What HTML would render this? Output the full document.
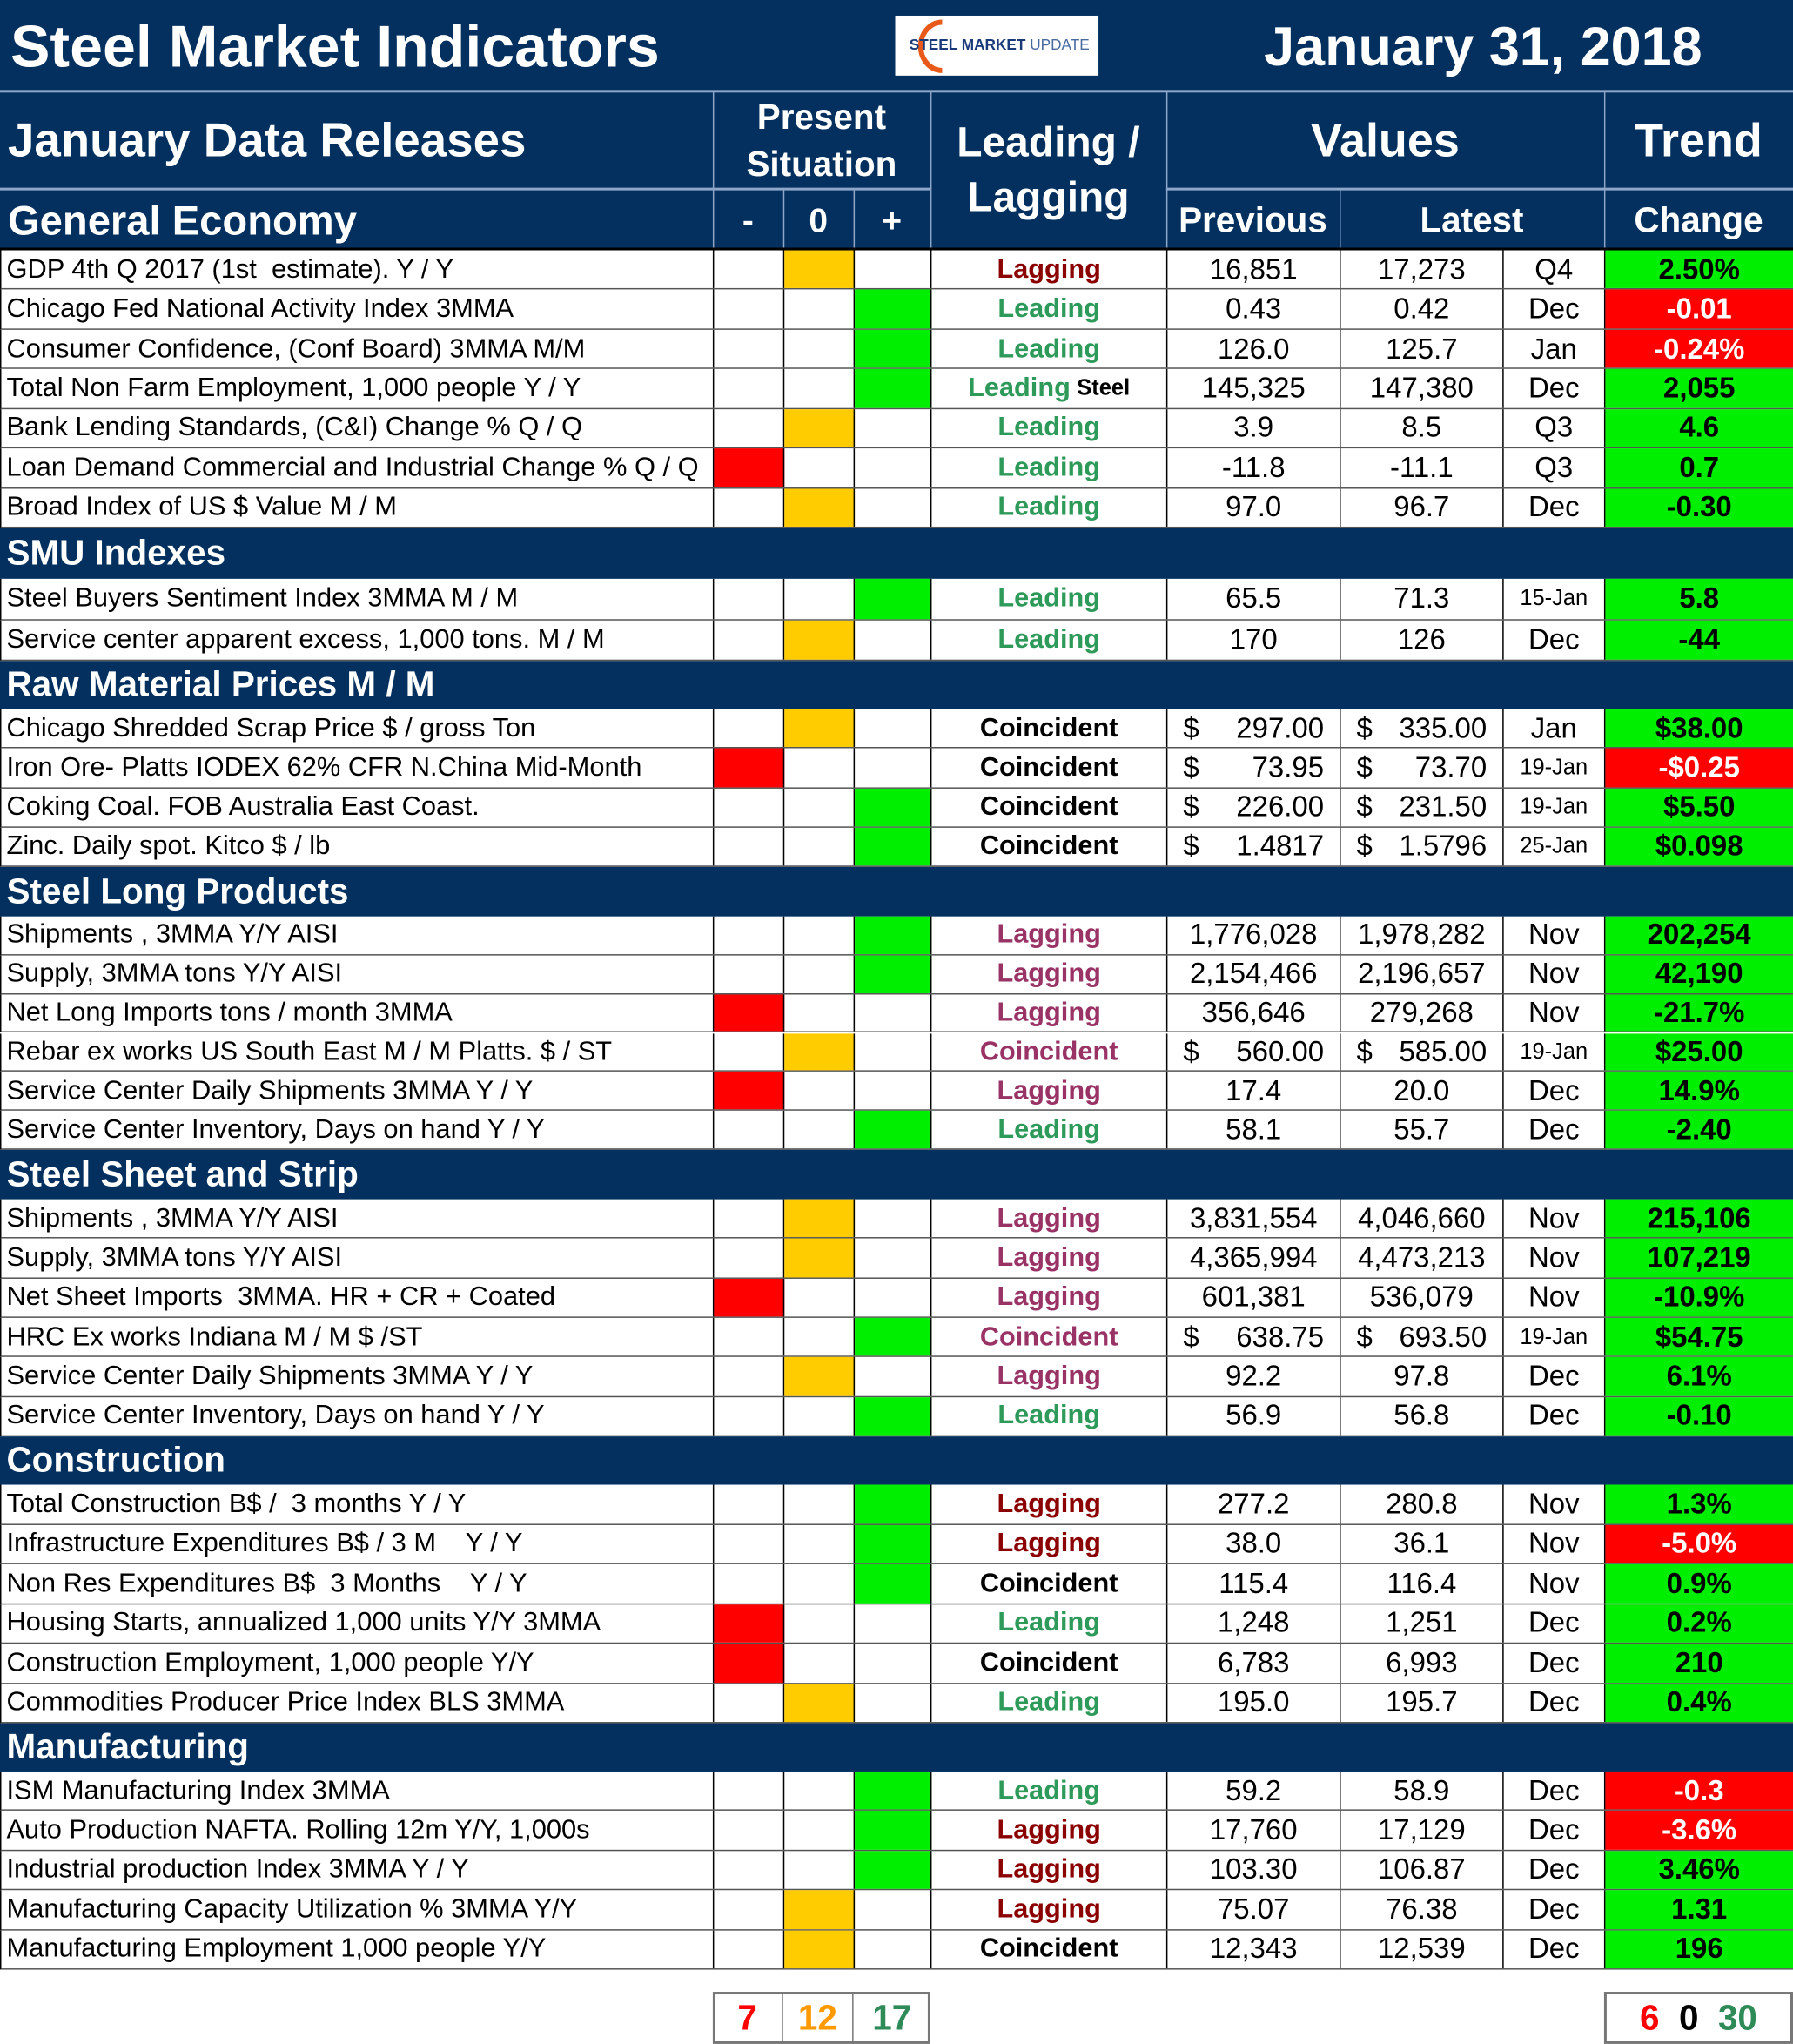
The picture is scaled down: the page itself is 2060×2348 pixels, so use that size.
<!DOCTYPE html>
<html><head><meta charset="utf-8">
<style>
html,body{margin:0;padding:0;background:#fff;}
body{width:2060px;height:2348px;overflow:hidden;position:relative;font-family:"Liberation Sans",Arial,sans-serif;}
#wrap{position:absolute;left:0;top:0;width:1376px;height:1568px;transform:scale(1.4971,1.4974);transform-origin:0 0;}
.a{position:absolute;box-sizing:border-box;}
.navy{background:#03305f;color:#fff;font-weight:bold;}
.c{display:flex;align-items:center;justify-content:center;white-space:nowrap;}
.l{display:flex;align-items:center;white-space:nowrap;}
.row .cell{position:absolute;top:0;height:100%;box-sizing:border-box;border-right:1px solid #000;display:flex;align-items:center;justify-content:center;white-space:pre;font-size:22px;}
</style></head><body>
<div id="wrap">
  <div class="a navy" style="left:0;top:0;width:1376px;height:192px;"></div>
  <div class="a l" style="left:8px;top:6px;height:60px;font-size:45.5px;color:#fff;font-weight:bold;">Steel Market Indicators</div>
  <div class="a c" style="left:687px;top:12px;width:156px;height:46px;background:#fff;font-size:11.5px;font-weight:bold;color:#1a3a7a;">
    <svg width="156" height="46" style="position:absolute;left:0;top:0"><path d="M36 5 A16 18 0 1 0 36 42" fill="none" stroke="#e85a1a" stroke-width="4"/></svg>
    <span style="position:relative;margin-left:4px">STEEL <span style="color:#1a3a7a">MARKET</span> <span style="font-weight:normal;color:#4a6aa0">UPDATE</span></span></div>
  <div class="a l" style="left:970px;top:6px;height:60px;font-size:42px;color:#fff;font-weight:bold;">January 31, 2018</div>
  <div class="a" style="left:0;top:69px;width:1376px;height:2px;background:#8ea6c8;"></div>
  <div class="a" style="left:0;top:144px;width:714px;height:2px;background:#8ea6c8;"></div>
  <div class="a" style="left:895px;top:144px;width:481px;height:2px;background:#8ea6c8;"></div>
  <div class="a" style="left:547px;top:70px;width:1px;height:122px;background:#8ea6c8;"></div>
  <div class="a" style="left:601px;top:145px;width:1px;height:47px;background:#8ea6c8;"></div>
  <div class="a" style="left:655px;top:145px;width:1px;height:47px;background:#8ea6c8;"></div>
  <div class="a" style="left:714px;top:70px;width:1px;height:122px;background:#8ea6c8;"></div>
  <div class="a" style="left:895px;top:70px;width:1px;height:122px;background:#8ea6c8;"></div>
  <div class="a" style="left:1028px;top:145px;width:1px;height:47px;background:#8ea6c8;"></div>
  <div class="a" style="left:1231px;top:70px;width:1px;height:122px;background:#8ea6c8;"></div>
  <div class="a l" style="left:6px;top:72px;height:72px;font-size:36.5px;color:#fff;font-weight:bold;">January Data Releases</div>
  <div class="a c" style="left:547px;top:72px;width:167px;height:72px;font-size:27px;color:#fff;font-weight:bold;text-align:center;line-height:36px;white-space:normal;">Present<br>Situation</div>
  <div class="a c" style="left:714px;top:80px;width:181px;height:100px;font-size:32px;color:#fff;font-weight:bold;text-align:center;line-height:42px;white-space:normal;">Leading /<br>Lagging</div>
  <div class="a c" style="left:895px;top:72px;width:336px;height:72px;font-size:36px;color:#fff;font-weight:bold;">Values</div>
  <div class="a c" style="left:1231px;top:72px;width:145px;height:72px;font-size:36px;color:#fff;font-weight:bold;">Trend</div>
  <div class="a l" style="left:6px;top:146px;height:46px;font-size:31.5px;color:#fff;font-weight:bold;">General Economy</div>
  <div class="a c" style="left:547px;top:146px;width:54px;height:46px;font-size:26px;color:#fff;font-weight:bold;">-</div>
  <div class="a c" style="left:601px;top:146px;width:54px;height:46px;font-size:26px;color:#fff;font-weight:bold;">0</div>
  <div class="a c" style="left:655px;top:146px;width:59px;height:46px;font-size:26px;color:#fff;font-weight:bold;">+</div>
  <div class="a c" style="left:895px;top:146px;width:133px;height:46px;font-size:27px;color:#fff;font-weight:bold;">Previous</div>
  <div class="a c" style="left:1028px;top:146px;width:203px;height:46px;font-size:27px;color:#fff;font-weight:bold;">Latest</div>
  <div class="a c" style="left:1231px;top:146px;width:145px;height:46px;font-size:27px;color:#fff;font-weight:bold;">Change</div>
  <div class="a" style="left:0;top:190px;width:1376px;height:2px;background:#000;"></div>

  <div class="a c" style="left:547px;top:1528px;width:167px;height:40px;border:2px solid #777;"></div>
  <div class="a c" style="left:547px;top:1528px;width:54px;height:40px;border-right:1px solid #777;font-size:27px;font-weight:bold;color:#ff0000;">7</div>
  <div class="a c" style="left:601px;top:1528px;width:54px;height:40px;border-right:1px solid #777;font-size:27px;font-weight:bold;color:#ff9900;">12</div>
  <div class="a c" style="left:655px;top:1528px;width:59px;height:40px;font-size:27px;font-weight:bold;color:#2e8b57;">17</div>
  <div class="a c" style="left:1231px;top:1528px;width:145px;height:40px;border:2px solid #777;font-size:27px;font-weight:bold;"><span style="color:#ff0000">6</span>&nbsp;&nbsp;<span>0</span>&nbsp;&nbsp;<span style="color:#2e8b57">30</span></div>
</div>
<script>
const sectionTitles=["SMU Indexes","Raw Material Prices M / M","Steel Long Products","Steel Sheet and Strip","Construction","Manufacturing"];
const sectionTops=[405,507,665,882,1102,1322];
const sectionBottoms=[444,544,703,920,1139,1359];
const labels=["GDP 4th Q 2017 (1st  estimate). Y / Y","Chicago Fed National Activity Index 3MMA","Consumer Confidence, (Conf Board) 3MMA M/M","Total Non Farm Employment, 1,000 people Y / Y","Bank Lending Standards, (C&I) Change % Q / Q","Loan Demand Commercial and Industrial Change % Q / Q","Broad Index of US $ Value M / M",
"Steel Buyers Sentiment Index 3MMA M / M","Service center apparent excess, 1,000 tons. M / M",
"Chicago Shredded Scrap Price $ / gross Ton","Iron Ore- Platts IODEX 62% CFR N.China Mid-Month","Coking Coal. FOB Australia East Coast.","Zinc. Daily spot. Kitco $ / lb",
"Shipments , 3MMA Y/Y AISI","Supply, 3MMA tons Y/Y AISI","Net Long Imports tons / month 3MMA","Rebar ex works US South East M / M Platts. $ / ST","Service Center Daily Shipments 3MMA Y / Y","Service Center Inventory, Days on hand Y / Y",
"Shipments , 3MMA Y/Y AISI","Supply, 3MMA tons Y/Y AISI","Net Sheet Imports  3MMA. HR + CR + Coated","HRC Ex works Indiana M / M $ /ST","Service Center Daily Shipments 3MMA Y / Y","Service Center Inventory, Days on hand Y / Y",
"Total Construction B$ /  3 months Y / Y","Infrastructure Expenditures B$ / 3 M    Y / Y","Non Res Expenditures B$  3 Months    Y / Y","Housing Starts, annualized 1,000 units Y/Y 3MMA","Construction Employment, 1,000 people Y/Y","Commodities Producer Price Index BLS 3MMA",
"ISM Manufacturing Index 3MMA","Auto Production NAFTA. Rolling 12m Y/Y, 1,000s","Industrial production Index 3MMA Y / Y","Manufacturing Capacity Utilization % 3MMA Y/Y","Manufacturing Employment 1,000 people Y/Y"];
const sectionOf=[0,0,0,0,0,0,0,1,1,2,2,2,2,3,3,3,3,3,3,4,4,4,4,4,4,5,5,5,5,5,5,6,6,6,6,6];
const situation=[0,1,1,1,0,-1,0, 1,0, 0,-1,1,1, 1,1,-1,0,-1,1, 0,0,-1,1,0,1, 1,1,1,-1,-1,0, 1,1,1,0,0];
const types=["Lagging","Leading","Leading","Leading Steel","Leading","Leading","Leading","Leading","Leading","Coincident","Coincident","Coincident","Coincident","Lagging","Lagging","Lagging","Coincident","Lagging","Leading","Lagging","Lagging","Lagging","Coincident","Lagging","Leading","Lagging","Lagging","Coincident","Leading","Coincident","Leading","Leading","Lagging","Lagging","Lagging","Coincident"];
const previous=["16,851","0.43","126.0","145,325","3.9","-11.8","97.0","65.5","170","$297.00","$73.95","$226.00","$1.4817","1,776,028","2,154,466","356,646","$560.00","17.4","58.1","3,831,554","4,365,994","601,381","$638.75","92.2","56.9","277.2","38.0","115.4","1,248","6,783","195.0","59.2","17,760","103.30","75.07","12,343"];
const latest=["17,273","0.42","125.7","147,380","8.5","-11.1","96.7","71.3","126","$335.00","$73.70","$231.50","$1.5796","1,978,282","2,196,657","279,268","$585.00","20.0","55.7","4,046,660","4,473,213","536,079","$693.50","97.8","56.8","280.8","36.1","116.4","1,251","6,993","195.7","58.9","17,129","106.87","76.38","12,539"];
const periods=["Q4","Dec","Jan","Dec","Q3","Q3","Dec","15-Jan","Dec","Jan","19-Jan","19-Jan","25-Jan","Nov","Nov","Nov","19-Jan","Dec","Dec","Nov","Nov","Nov","19-Jan","Dec","Dec","Nov","Nov","Nov","Dec","Dec","Dec","Dec","Dec","Dec","Dec","Dec"];
const changes=["2.50%","-0.01","-0.24%","2,055","4.6","0.7","-0.30","5.8","-44","$38.00","-$0.25","$5.50","$0.098","202,254","42,190","-21.7%","$25.00","14.9%","-2.40","215,106","107,219","-10.9%","$54.75","6.1%","-0.10","1.3%","-5.0%","0.9%","0.2%","210","0.4%","-0.3","-3.6%","3.46%","1.31","196"];
const changeDir=[1,-1,-1,1,1,1,1,1,1,1,-1,1,1,1,1,1,1,1,1,1,1,1,1,1,1,1,-1,1,1,1,1,-1,-1,1,1,1];

const wrap=document.getElementById('wrap');
const firstTops=[192,444,544,703,920,1139,1359];
const lastBottoms=[405,507,665,882,1102,1322,1511];
const cols=[0,547,601,655,714,895,1028,1153,1231,1376];
const sitColors={"-1":"#ff0000","0":"#ffcc00","1":"#00ee00"};

sectionTitles.forEach((t,i)=>{
  const d=document.createElement('div');
  d.className='a navy l';
  d.style.cssText=`left:0;top:${sectionTops[i]}px;width:1376px;height:${sectionBottoms[i]-sectionTops[i]}px;font-size:27px;padding-left:5px;`;
  d.textContent=t;
  
  
  wrap.appendChild(d);
});

function typeColor(t,s){
  if(t.startsWith('Leading')) return '#2e9a5a';
  if(s===3||s===4) return '#993366';
  if(t==='Lagging') return '#8b0000';
  return '#000';
}
function dollarCell(v){
  if(v[0]==='$') return `<span style="display:flex;width:100%;justify-content:space-between;padding:0 12px 0 12px;box-sizing:border-box"><span>$</span><span>${v.slice(1)}</span></span>`;
  return v;
}
labels.forEach((lab,i)=>{
  const s=sectionOf[i];
  const idx=sectionOf.slice(0,i).filter(x=>x===s).length;
  const n=sectionOf.filter(x=>x===s).length;
  const h=(lastBottoms[s]-firstTops[s])/n;
  const top=firstTops[s]+idx*h;
  const r=document.createElement('div');
  r.className='a row';
  r.style.cssText=`left:0;top:${top}px;width:1376px;height:${h}px;border-bottom:1px solid #555;border-left:1px solid #000;`;
  
  
  const sit=situation[i];
  const cells=[
    {w:[0,1],html:lab,st:'justify-content:flex-start;padding-left:4px;font-size:20.6px;'},
    {w:[1,2],html:'',st:sit===-1?`background:${sitColors[-1]}`:''},
    {w:[2,3],html:'',st:sit===0?`background:${sitColors[0]}`:''},
    {w:[3,4],html:'',st:sit===1?`background:${sitColors[1]}`:''},
    {w:[4,5],html:types[i]==='Leading Steel'?'Leading<span style="color:#000;font-size:17px;margin-left:5px">Steel</span>':types[i],st:`font-weight:bold;font-size:20.5px;color:${typeColor(types[i],s)};`},
    {w:[5,6],html:dollarCell(previous[i]),st:''},
    {w:[6,7],html:dollarCell(latest[i]),st:''},
    {w:[7,8],html:periods[i],st:periods[i].includes('-')?'font-size:17px;':''},
    {w:[8,9],html:changes[i],st:`font-weight:bold;background:${changeDir[i]>0?'#00ee00':'#ff0000'};color:${changeDir[i]>0?'#000':'#fff'};`}
  ];
  const names=['indicator-label','situation-negative','situation-neutral','situation-positive','indicator-type','previous-value','latest-value','period','trend-change'];
  cells.forEach((c,k)=>{
    const d=document.createElement('div');
    d.className='cell';
    d.style.cssText=`left:${cols[c.w[0]]}px;width:${cols[c.w[1]]-cols[c.w[0]]}px;`+c.st;
    d.innerHTML=c.html;
    
    
    r.appendChild(d);
  });
  wrap.appendChild(r);
});
</script>
</body></html>
